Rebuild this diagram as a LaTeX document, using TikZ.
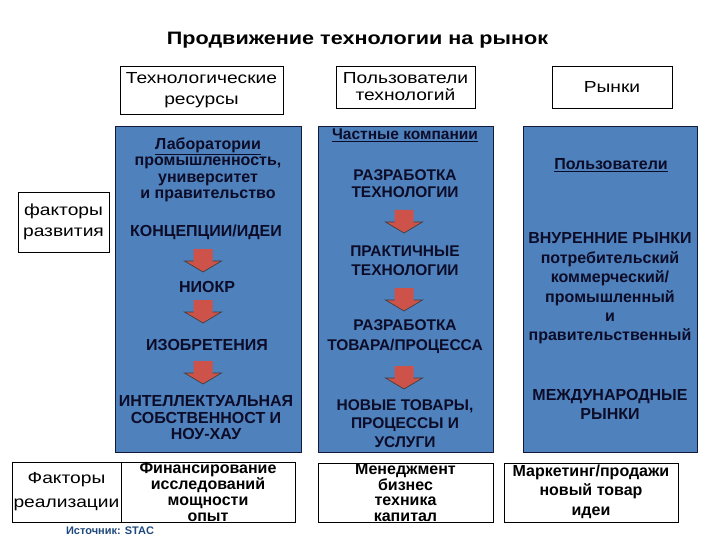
\documentclass[tikz,border=0pt]{standalone}
\usepackage{fontspec}
\setmainfont{Liberation Sans}
\newfontfamily\widesans[FakeStretch=1.2]{Liberation Sans}

\definecolor{stageblue}{RGB}{79,129,189}
\definecolor{stageline}{RGB}{20,25,60}
\definecolor{inkblue}{RGB}{12,12,40}
\definecolor{arrowred}{RGB}{205,82,74}
\definecolor{srcblue}{RGB}{31,73,125}

\begin{document}
\begin{tikzpicture}[
  x=1pt, y=-1pt,
  hdr/.style={draw, fill=white, line width=0.8pt, align=center, inner sep=1pt, font=\widesans\fontsize{16}{#1}\selectfont},
  hdr/.default=20,
  stage/.style={draw=stageline, fill=stageblue, line width=0.8pt},
  stagetxt/.style={align=center, text=inkblue, inner sep=0pt, font=\bfseries\fontsize{16}{#1}\selectfont},
  stagetxt/.default=18,
  midtxt/.style={stagetxt=#1, font=\bfseries\fontsize{15.5}{#1}\selectfont},
  midtxt/.default=18,
  factorbox/.style={draw, fill=white, line width=0.8pt},
  factortxt/.style={align=center, text=black, inner sep=0pt, font=\bfseries\fontsize{16}{#1}\selectfont},
  factortxt/.default=16,
  downarr/.pic={
    \fill[arrowred] (-9.5,0) -- (9.5,0) -- (9.5,12) -- (18.5,12) -- (0,23) -- (-18.5,12) -- (-9.5,12) -- cycle;
    \draw[black!75, line width=0.7pt] (-9.5,12) -- (-18.5,12) -- (0,23) -- (18.5,12) -- (9.5,12);
  }
]
  \useasboundingbox (0,0) rectangle (720,540);

  \node[font=\widesans\bfseries\fontsize{18}{22}\selectfont] (title) at (357.5,40) {Продвижение технологии на рынок};

  % column heads
  \node[hdr=21, minimum width=163, minimum height=48] (res) at (201.5,90) {Технологические\\ресурсы};
  \node[hdr=17, minimum width=139, minimum height=42] (usr) at (405.5,87) {Пользователи\\технологий};
  \node[hdr, minimum width=120, minimum height=42] (mkt) at (612,87) {Рынки};
  \node[hdr=21, minimum width=91, minimum height=60] (devf) at (63.5,222) {факторы\\развития};

  % blue columns
  \node[stage, minimum width=186, minimum height=326] (colA) at (208,289) {};
  \node[stage, minimum width=175, minimum height=326] (colB) at (405.5,289) {};
  \node[stage, minimum width=174, minimum height=326] (colC) at (610,289) {};

  % column A
  \node[stagetxt=16.5] (lab) at (208,170) {\underline{Лаборатории}\\промышленность,\\университет\\и правительство};
  \node[stagetxt] (konc) at (206,232) {КОНЦЕПЦИИ/ИДЕИ};
  \node[stagetxt] (niokr) at (207,287) {НИОКР};
  \node[stagetxt] (izobr) at (207,345) {ИЗОБРЕТЕНИЯ};
  \node[stagetxt=16.5] (intel) at (206,418) {ИНТЕЛЛЕКТУАЛЬНАЯ\\СОБСТВЕННОСТ И\\НОУ-ХАУ};
  \pic (arA1) at (203,249) {downarr};
  \pic (arA2) at (203,300) {downarr};
  \pic (arA3) at (203,361) {downarr};

  % column B
  \node[midtxt] (priv) at (405,135) {\underline{Частные компании}};
  \node[midtxt=17] (razr) at (405,183.5) {РАЗРАБОТКА\\ТЕХНОЛОГИИ};
  \node[midtxt=19] (prakt) at (405,260.5) {ПРАКТИЧНЫЕ\\ТЕХНОЛОГИИ};
  \node[midtxt=20] (tovar) at (405,337) {РАЗРАБОТКА\\ТОВАРА/ПРОЦЕССА};
  \node[midtxt=18.5] (novye) at (405,423.5) {НОВЫЕ ТОВАРЫ,\\ПРОЦЕССЫ И\\УСЛУГИ};
  \pic (arB1) at (404,210) {downarr};
  \pic (arB2) at (404,288) {downarr};
  \pic (arB3) at (404,366) {downarr};

  % column C
  \node[stagetxt] (polz) at (611,165) {\underline{Пользователи}};
  \node[stagetxt=19.4] (vnutr) at (610,288.5) {ВНУРЕННИЕ РЫНКИ\\потребительский\\коммерческий/\\промышленный\\и\\правительственный};
  \node[stagetxt=19] (mezhd) at (610,404.5) {МЕЖДУНАРОДНЫЕ\\РЫНКИ};

  % bottom factors
  \node[hdr=24, minimum width=109, minimum height=60] (implf) at (66.5,492) {Факторы\\реализации};
  \node[factorbox, minimum width=174, minimum height=60] (finbox) at (208,492) {};
  \node[factorbox, minimum width=175, minimum height=59] (mgmbox) at (405.5,492.5) {};
  \node[factorbox, minimum width=174, minimum height=59] (mrkbox) at (591,492.5) {};
  \node[factortxt=15.7] (fin) at (finbox.center) {Финансирование\\исследований\\мощности\\опыт};
  \node[factortxt=15.5] (mgm) at (mgmbox.center) {Менеджмент\\бизнес\\техника\\капитал};
  \node[factortxt=19.5] (mrk) at (591,491.5) {Маркетинг/продажи\\новый товар\\идеи};

  \node[font=\bfseries\fontsize{11}{13}\selectfont, text=srcblue] (src) at (110,531) {Источник: STAC};
\end{tikzpicture}
\end{document}
